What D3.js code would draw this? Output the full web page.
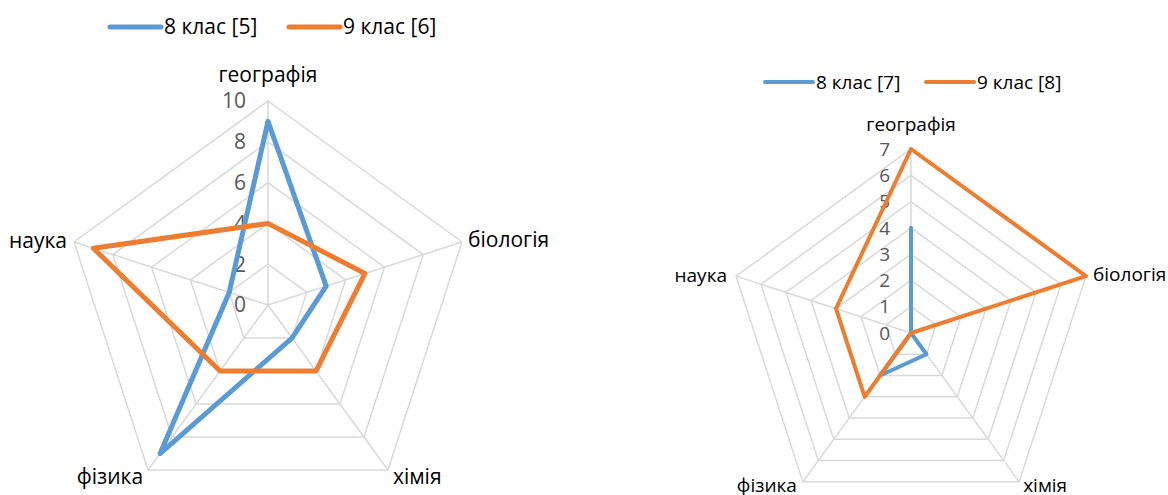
<!DOCTYPE html>
<html>
<head>
<meta charset="utf-8">
<script src="https://cdn.jsdelivr.net/npm/d3@7"></script>
<style>
  body { margin: 0; background: #fff; }
  svg { display: block; }
  .grid { fill: none; stroke: #d9d9d9; stroke-width: 1.5; }
  .tick-label { fill: #595959; }
  .cat-label, .legend-text { fill: #000; }
</style>
</head>
<body>
<svg id="chart" width="1168" height="495"></svg>
<script>
// categories (same axes for both charts)
const categories = ['географія', 'біологія', 'хімія', 'фізика', 'наука'];

// left chart
const leftNames = ['8 клас [5]', '9 клас [6]'];
const leftGrade8 = [9, 3, 2, 9, 2];
const leftGrade9 = [4, 5, 4, 4, 9];
const leftTicks = [0, 2, 4, 6, 8, 10];

// right chart
const rightNames = ['8 клас [7]', '9 клас [8]'];
const rightGrade8 = [4, 0, 1, 2, 0];
const rightGrade9 = [7, 7, 0, 3, 3];
const rightTicks = [0, 1, 2, 3, 4, 5, 6, 7];

const colors = ['#5b9bd5', '#ed7d31'];

const svg = d3.select('#chart');

function drawRadar(opts) {
  const g = svg.append('g')
    .attr('transform', 'translate(' + opts.cx + ',' + opts.cy + ')');

  const maxVal = d3.max(opts.ticks);
  const r = d3.scaleLinear().domain([0, maxVal]).range([0, opts.radius]);
  const angle = d3.scaleLinear().domain([0, categories.length]).range([0, 2 * Math.PI]);

  const point = (v, i) => [r(v) * Math.sin(angle(i)), -r(v) * Math.cos(angle(i))];

  // pentagon grid, skipping the 0 level
  const gridLine = d3.lineRadial()
    .angle((d, i) => angle(i))
    .radius(d => r(d))
    .curve(d3.curveLinearClosed);

  g.selectAll('path.grid')
    .data(opts.ticks.filter(t => t > 0))
    .enter().append('path')
    .attr('class', 'grid')
    .attr('d', t => gridLine(categories.map(() => t)));

  // spokes
  g.selectAll('line.spoke')
    .data(categories)
    .enter().append('line')
    .attr('class', 'grid')
    .attr('x1', 0).attr('y1', 0)
    .attr('x2', (d, i) => point(maxVal, i)[0])
    .attr('y2', (d, i) => point(maxVal, i)[1]);

  // value labels along the top axis
  g.selectAll('text.tick-label')
    .data(opts.ticks)
    .enter().append('text')
    .attr('class', 'tick-label')
    .attr('x', -opts.tickGap)
    .attr('y', d => -r(d))
    .attr('dy', '0.35em')
    .attr('text-anchor', 'end')
    .style('font-family', 'Open Sans, sans-serif')
    .style('font-size', opts.tickSize + 'px')
    .text(d => d);

  // series lines
  const seriesLine = d3.lineRadial()
    .angle((d, i) => angle(i))
    .radius(d => r(d))
    .curve(d3.curveLinearClosed);

  g.selectAll('path.series')
    .data(opts.series)
    .enter().append('path')
    .attr('class', 'series')
    .attr('fill', 'none')
    .attr('stroke', (d, i) => colors[i])
    .attr('stroke-width', opts.lineWidth)
    .attr('stroke-linejoin', 'round')
    .attr('d', d => seriesLine(d));

  // category labels
  g.selectAll('text.cat-label')
    .data(categories)
    .enter().append('text')
    .attr('class', 'cat-label')
    .style('font-family', 'Open Sans, sans-serif')
    .style('font-size', opts.catSize + 'px')
    .attr('x', (d, i) => point(maxVal, i)[0] + opts.labelOffsets[i][0])
    .attr('y', (d, i) => point(maxVal, i)[1] + opts.labelOffsets[i][1])
    .attr('dy', '0.35em')
    .attr('text-anchor', (d, i) => opts.labelAnchors[i])
    .text(d => d);

  // legend
  const legend = svg.append('g')
    .attr('class', 'legend')
    .attr('transform', 'translate(' + opts.legendX + ',' + opts.legendY + ')');

  opts.names.forEach((name, i) => {
    const x = opts.legendStep * i;
    legend.append('line')
      .attr('x1', x).attr('x2', x + opts.legendLine)
      .attr('y1', 0).attr('y2', 0)
      .attr('stroke', colors[i])
      .attr('stroke-width', opts.lineWidth)
      .attr('stroke-linecap', 'round');
    legend.append('text')
      .attr('class', 'legend-text')
      .attr('x', x + opts.legendLine + 3)
      .attr('y', 0)
      .attr('dy', '0.35em')
      .style('font-family', 'Open Sans, sans-serif')
      .style('font-size', opts.catSize + 'px')
      .text(name);
  });
}

drawRadar({
  cx: 268, cy: 305, radius: 204,
  ticks: leftTicks,
  series: [leftGrade8, leftGrade9],
  names: leftNames,
  tickGap: 22, tickSize: 21, catSize: 21, lineWidth: 5,
  labelAnchors: ['middle', 'start', 'start', 'end', 'end'],
  labelOffsets: [[0, -26], [6, -2], [5, 7], [-5, 7], [-7, -1]],
  legendX: 110, legendY: 27, legendStep: 179, legendLine: 51
});

drawRadar({
  cx: 911, cy: 333, radius: 184,
  ticks: rightTicks,
  series: [rightGrade8, rightGrade9],
  names: rightNames,
  tickGap: 21, tickSize: 19, catSize: 19, lineWidth: 4,
  labelAnchors: ['middle', 'start', 'start', 'end', 'end'],
  labelOffsets: [[0, -25], [7, -2], [4, 3], [-6, 3], [-9, -1]],
  legendX: 765, legendY: 82, legendStep: 161, legendLine: 48
});
</script>
</body>
</html>
